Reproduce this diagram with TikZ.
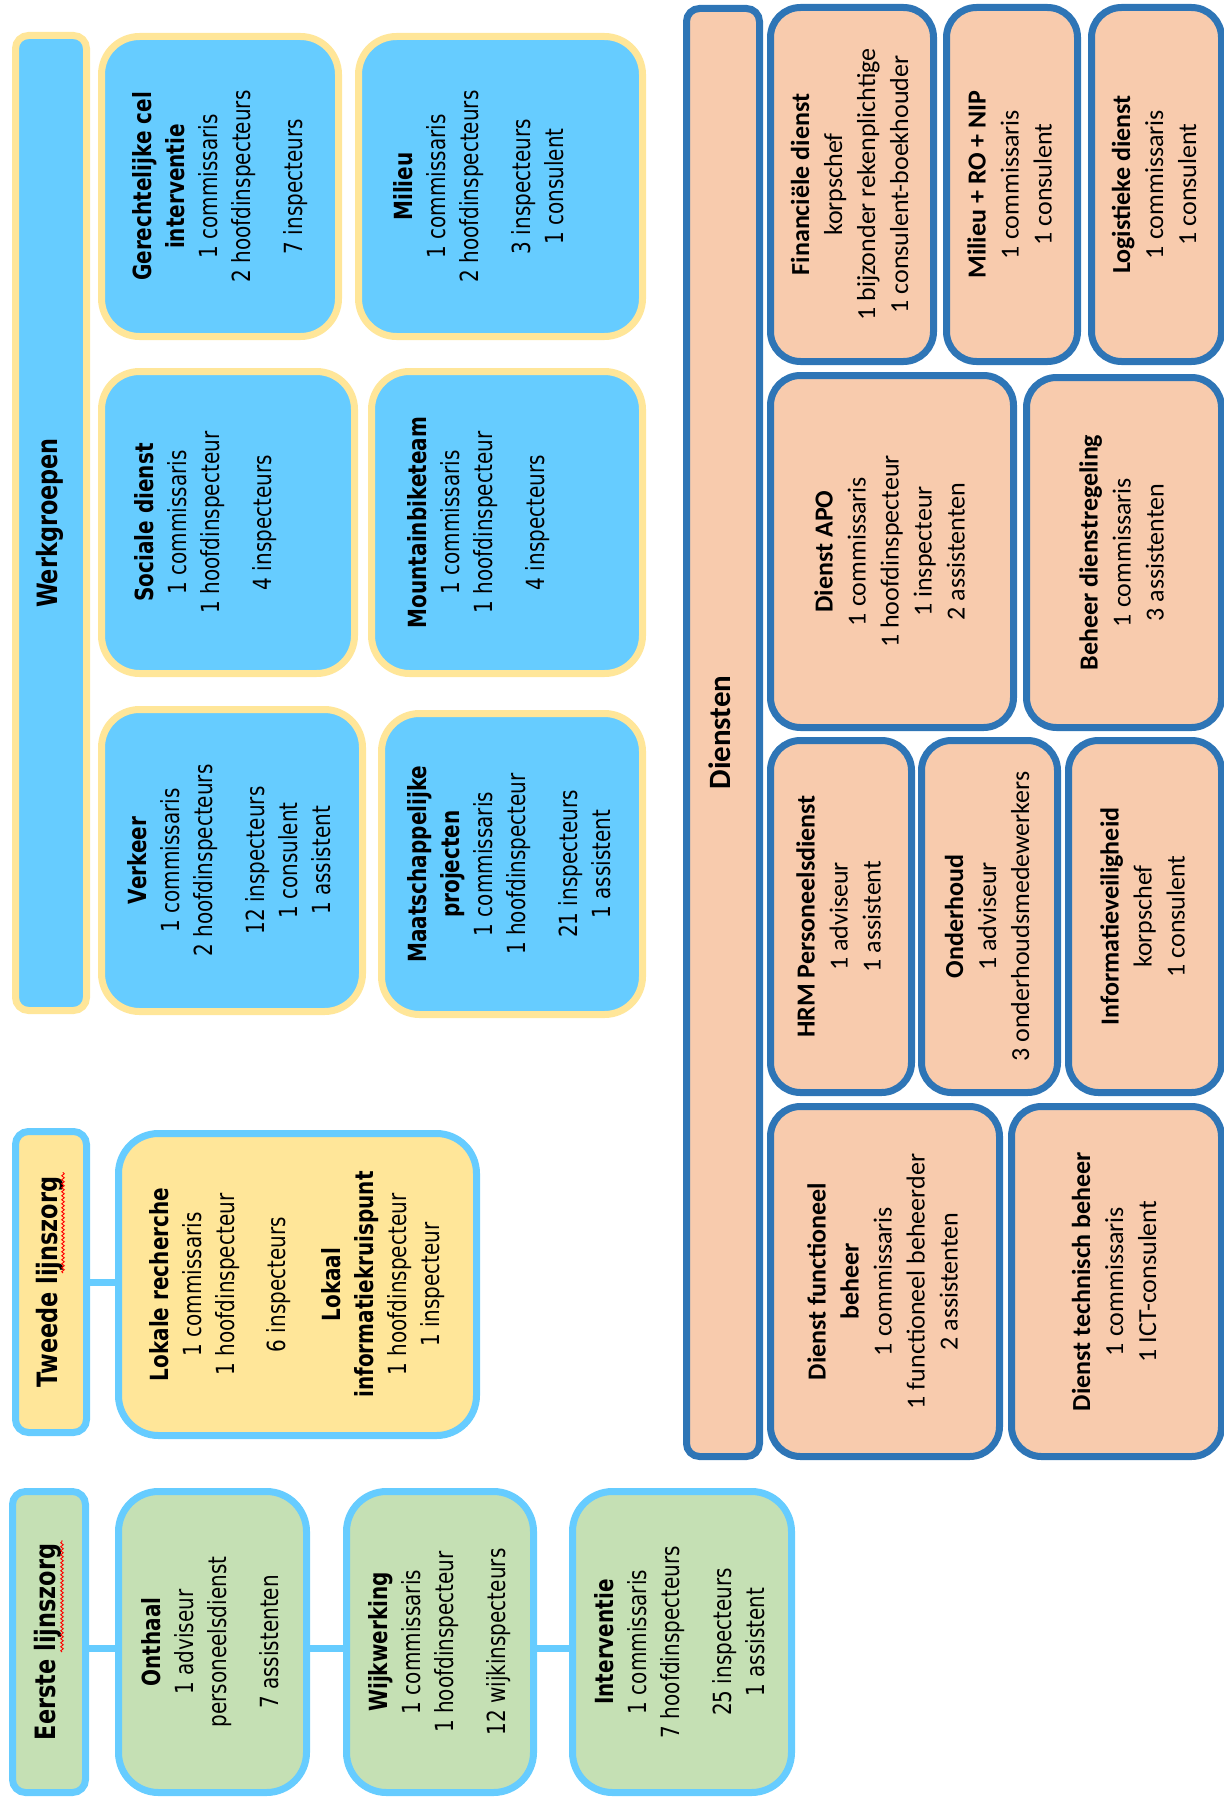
\documentclass[tikz,border=0pt]{standalone}
\usepackage{fontspec}
\usepackage{graphicx}
\setmainfont{Carlito}
\newfontfamily\dvfont[FakeStretch=0.8]{DejaVu Sans}
\usetikzlibrary{decorations.pathmorphing}
\definecolor{wblue}{HTML}{66CCFF}
\definecolor{wyel}{HTML}{FFE699}
\definecolor{peach}{HTML}{F8CBAD}
\definecolor{dblue}{HTML}{2E75B6}
\definecolor{lgreen}{HTML}{C5E0B4}
\newcommand\boxat[7]{%
  \pgfmathsetmacro\bcx{(#3+#5)/2}\pgfmathsetmacro\bcy{(#4+#6)/2}%
  \pgfmathsetmacro\bww{#5-#3-7}\pgfmathsetmacro\bhh{#6-#4-7}%
  \node[#1, minimum width=\bww pt, minimum height=\bhh pt] (#2) at (\bcx,\bcy) {\rotatebox{90}{\begin{tabular}{@{}c@{}}#7\end{tabular}}};}
\tikzset{
  base/.style={rectangle, line width=7pt, inner sep=0pt, outer sep=0pt, align=center},
  wgbox/.style={base, draw=wyel, fill=wblue, rounded corners=38pt, font=\dvfont\fontsize{25}{33}\selectfont},
  wgbar/.style={wgbox, rounded corners=13pt, font=\dvfont\fontsize{28}{33}\selectfont},
  dibox/.style={base, draw=dblue, fill=peach, rounded corners=30pt, font=\fontsize{26}{33}\selectfont},
  dibar/.style={dibox, rounded corners=13pt, font=\fontsize{31}{36}\selectfont},
  lnbar/.style={base, draw=wblue, rounded corners=13pt, font=\dvfont\fontsize{28}{33}\selectfont},
  lnbox/.style={base, draw=wblue, rounded corners=40pt, font=\dvfont\fontsize{25}{33}\selectfont},
  conn/.style={draw=wblue, line width=7pt},
  squig/.style={draw=red, line width=0.9pt, decorate, decoration={snake, amplitude=1.3pt, segment length=4pt}}
}
\begin{document}
\begin{tikzpicture}[x=1pt,y=-1pt]
\useasboundingbox (0,0) rectangle (1223,1798);
% Werkgroepen
\boxat{wgbar}{werk}{12}{32}{90}{1014}{\textbf{Werkgroepen}}
\boxat{wgbox}{gci}{98}{33}{342}{340}{\textbf{Gerechtelijke cel}\\\textbf{interventie}\\1 commissaris\\2 hoofdinspecteurs\\[19pt]7 inspecteurs}
\boxat{wgbox}{mil}{355}{33}{646}{340}{\textbf{Milieu}\\1 commissaris\\2 hoofdinspecteurs\\[19pt]3 inspecteurs\\1 consulent\\[38pt]}
\boxat{wgbox}{soc}{98}{368}{358}{677}{\textbf{Sociale dienst}\\1 commissaris\\1 hoofdinspecteur\\[19pt]4 inspecteurs\\[44pt]}
\boxat{wgbox}{mtb}{368}{368}{646}{677}{\textbf{Mountainbiketeam}\\1 commissaris\\1 hoofdinspecteur\\[19pt]4 inspecteurs\\[56pt]}
\boxat{wgbox}{verk}{98}{706}{366}{1015}{\textbf{Verkeer}\\1 commissaris\\2 hoofdinspecteurs\\[19pt]12 inspecteurs\\1 consulent\\1 assistent}
\boxat{wgbox}{maat}{378}{710}{646}{1018}{\textbf{Maatschappelijke}\\\textbf{projecten}\\1 commissaris\\1 hoofdinspecteur\\[19pt]21 inspecteurs\\1 assistent}
% Diensten
\boxat{dibar}{dien}{683}{5}{763}{1460}{\textbf{Diensten}}
\boxat{dibox}{fin}{767}{4}{937}{365}{\textbf{Financiële dienst}\\korpschef\\1 bijzonder rekenplichtige\\1 consulent-boekhouder}
\boxat{dibox}{mro}{943}{4}{1081}{365}{\textbf{Milieu + RO + NIP}\\1 commissaris\\1 consulent}
\boxat{dibox}{log}{1088}{4}{1225}{365}{\textbf{Logistieke dienst}\\1 commissaris\\1 consulent}
\boxat{dibox}{apo}{767}{372}{1017}{731}{\textbf{Dienst APO}\\1 commissaris\\1 hoofdinspecteur\\1 inspecteur\\2 assistenten}
\boxat{dibox}{bds}{1023}{374}{1225}{731}{\textbf{Beheer dienstregeling}\\1 commissaris\\3 assistenten}
\boxat{dibox}{hrm}{767}{737}{915}{1096}{\textbf{HRM Personeelsdienst}\\1 adviseur\\1 assistent}
\boxat{dibox}{ond}{918}{737}{1061}{1096}{\textbf{Onderhoud}\\1 adviseur\\3 onderhoudsmedewerkers}
\boxat{dibox}{inf}{1065}{737}{1225}{1096}{\textbf{Informatieveiligheid}\\korpschef\\1 consulent}
\boxat{dibox}{dfb}{767}{1103}{1003}{1460}{\textbf{Dienst functioneel}\\\textbf{beheer}\\1 commissaris\\1 functioneel beheerder\\2 assistenten}
\boxat{dibox}{dtb}{1008}{1103}{1225}{1460}{\textbf{Dienst technisch beheer}\\1 commissaris\\1 ICT-consulent}
% Tweede lijnszorg
\boxat{lnbar, fill=wyel}{tweede}{12}{1128}{90}{1436}{\textbf{Tweede lijnszorg}}
\boxat{lnbox, fill=wyel}{lok}{115}{1130}{480}{1439}{\textbf{Lokale recherche}\\1 commissaris\\1 hoofdinspecteur\\[18pt]6 inspecteurs\\[22pt]\textbf{Lokaal}\\\textbf{informatiekruispunt}\\1 hoofdinspecteur\\1 inspecteur}
% Eerste lijnszorg
\boxat{lnbar, fill=lgreen}{eerste}{9}{1488}{89}{1796}{\textbf{Eerste lijnszorg}}
\boxat{lnbox, fill=lgreen}{ont}{115}{1488}{310}{1796}{\textbf{Onthaal}\\1 adviseur\\personeelsdienst\\[19pt]7 assistenten}
\boxat{lnbox, fill=lgreen}{wijk}{343}{1488}{537}{1796}{\textbf{Wijkwerking}\\1 commissaris\\1 hoofdinspecteur\\[19pt]12 wijkinspecteurs}
\boxat{lnbox, fill=lgreen}{intv}{569}{1488}{795}{1796}{\textbf{Interventie}\\1 commissaris\\7 hoofdinspecteurs\\[19pt]25 inspecteurs\\1 assistent}
% connectors
\draw[conn] (tweede.east) -- (tweede.east -| lok.west);
\draw[conn] ([yshift=-6pt]eerste.east) -- ([yshift=-6pt]ont.west);
\draw[conn] ([yshift=-6pt]ont.east) -- ([yshift=-6pt]wijk.west);
\draw[conn] ([yshift=-6pt]wijk.east) -- ([yshift=-6pt]intv.west);
% spell-check squiggles
\draw[squig] (63,1273) -- (63,1172);
\draw[squig] (62,1652) -- (62,1540);
\end{tikzpicture}
\end{document}
